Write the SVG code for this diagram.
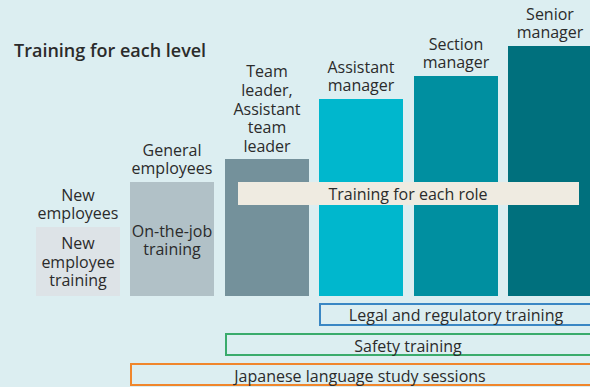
<svg xmlns="http://www.w3.org/2000/svg" width="590" height="387" viewBox="0 0 590 387">
  <style>
    .lbl { font-family: "Open Sans", "Noto Sans", sans-serif; font-size: 16px; fill: #2b2b2b; text-anchor: middle; }
    .title { font-family: "Open Sans", "Noto Sans", sans-serif; font-size: 18px; font-weight: 600; fill: #2b2b2b; }
    .band { fill: none; stroke-width: 2; }
  </style>
  <rect x="0" y="0" width="590" height="387" fill="#dceef1"/>
  <text class="title" x="14" y="57">Training for each level</text>

  <!-- level columns -->
  <g id="new-employees">
    <rect x="36" y="227" width="84" height="69" fill="#dde3e7"/>
    <text class="lbl" x="78" y="201">New<tspan x="78" dy="18">employees</tspan></text>
    <text class="lbl" x="78" y="249">New<tspan x="78" dy="18.5">employee</tspan><tspan x="78" dy="18.5">training</tspan></text>
  </g>
  <g id="general-employees">
    <rect x="130" y="182" width="84" height="114" fill="#b1c1c7"/>
    <text class="lbl" x="172" y="156">General<tspan x="172" dy="18">employees</tspan></text>
    <text class="lbl" x="172" y="237">On-the-job<tspan x="172" dy="18">training</tspan></text>
  </g>
  <g id="team-leader">
    <rect x="225" y="159" width="84" height="137" fill="#74919b"/>
    <text class="lbl" x="267" y="77">Team<tspan x="267" dy="18.75">leader,</tspan><tspan x="267" dy="18.75">Assistant</tspan><tspan x="267" dy="18.75">team</tspan><tspan x="267" dy="18.75">leader</tspan></text>
  </g>
  <g id="assistant-manager">
    <rect x="319" y="99" width="84" height="197" fill="#00b7cd"/>
    <text class="lbl" x="361" y="73">Assistant<tspan x="361" dy="18">manager</tspan></text>
  </g>
  <g id="section-manager">
    <rect x="414" y="76" width="84" height="220" fill="#008fa0"/>
    <text class="lbl" x="456" y="50">Section<tspan x="456" dy="18">manager</tspan></text>
  </g>
  <g id="senior-manager">
    <rect x="508" y="46" width="84" height="250" fill="#00707d"/>
    <text class="lbl" x="550" y="20">Senior<tspan x="550" dy="18">manager</tspan></text>
  </g>

  <!-- cross-level training -->
  <g id="role-training">
    <rect x="238" y="182" width="341" height="23" fill="#efebe1"/>
    <text class="lbl" x="408" y="200">Training for each role</text>
  </g>
  <g id="legal-training">
    <rect class="band" x="320" y="304" width="275" height="21" stroke="#3a87c4"/>
    <text class="lbl" x="456" y="321">Legal and regulatory training</text>
  </g>
  <g id="safety-training">
    <rect class="band" x="226" y="334" width="370" height="21" stroke="#3aab6c"/>
    <text class="lbl" x="408" y="352">Safety training</text>
  </g>
  <g id="japanese-sessions">
    <rect class="band" x="131" y="364" width="465" height="21" stroke="#f0862c"/>
    <text class="lbl" x="360" y="382">Japanese language study sessions</text>
  </g>
</svg>
